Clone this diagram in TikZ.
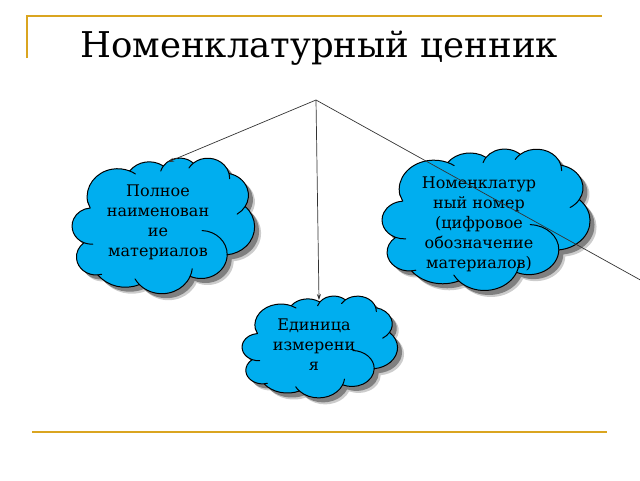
\documentclass[tikz,border=0pt]{standalone}
\usepackage{fontspec}
\setmainfont{DejaVu Serif}
\usetikzlibrary{arrows.meta}
\definecolor{gold}{RGB}{218,165,32}
\definecolor{skyc}{RGB}{0,174,239}
\tikzset{
  cloudfill/.style={fill=skyc, draw=black, line width=1pt, line join=round},
  cloudinner/.style={draw=black, line width=1pt, line cap=round},
  shadowA/.style={fill=black!20},
  shadowB/.style={fill=black!50},
  cloudtext/.style={align=center, font=\fontsize{16}{20}\selectfont, text=black},
  conn/.style={draw=black!80, line width=0.7pt},
  goldline/.style={draw=gold, line width=2pt},
}
\newcommand\pptcloudpath{(39.00,143.70)
 arc[start angle=-190.487, delta angle=123.781, x radius=67.53, y radius=91.90] coordinate (q1)
 arc[start angle=-144.102, delta angle=89.945, x radius=53.33, y radius=72.67] coordinate (q2)
 arc[start angle=-145.808, delta angle=99.723, x radius=43.65, y radius=59.45] coordinate (q3)
 arc[start angle=-130.986, delta angle=117.242, x radius=48.57, y radius=65.95] coordinate (q4)
 arc[start angle=-78.709, delta angle=109.027, x radius=53.33, y radius=72.73] coordinate (q5)
 arc[start angle=-46.267, delta angle=130.269, x radius=67.75, y radius=92.20] coordinate (q6)
 arc[start angle=0.625, delta angle=114.033, x radius=57.85, y radius=78.67] coordinate (q7)
 arc[start angle=22.452, delta angle=115.173, x radius=67.52, y radius=92.15] coordinate (q8)
 arc[start angle=66.243, delta angle=75.711, x radius=77.20, y radius=105.43] coordinate (q9)
 arc[start angle=-274.942, delta angle=146.736, x radius=43.60, y radius=59.18] coordinate (q10)
 arc[start angle=-246.829, delta angle=152.519, x radius=43.45, y radius=59.45] coordinate (q11)
 -- cycle}
\newcommand\pptcloudinner{%
 (39.00,143.70) arc[start angle=169.513, delta angle=-11.858, x radius=67.53, y radius=91.90]
 (q1) arc[start angle=-66.706, delta angle=12.319, x radius=67.53, y radius=91.90]
 (q2) arc[start angle=-145.808, delta angle=-17.686, x radius=43.65, y radius=59.45]
 (q3) arc[start angle=-130.986, delta angle=-18.195, x radius=48.57, y radius=65.95]
 (q4) arc[start angle=-13.744, delta angle=14.859, x radius=48.57, y radius=65.95]
 (q5) arc[start angle=30.318, delta angle=27.751, x radius=53.33, y radius=72.73]
 (q6) arc[start angle=0.625, delta angle=-88.372, x radius=57.85, y radius=78.67]
 (q7) arc[start angle=22.452, delta angle=-15.998, x radius=67.52, y radius=92.15]
 (q8) arc[start angle=137.625, delta angle=14.081, x radius=67.52, y radius=92.15]
 (q9) arc[start angle=85.058, delta angle=-11.447, x radius=43.60, y radius=59.18]
 (q10) arc[start angle=113.171, delta angle=-26.430, x radius=43.45, y radius=59.45]}
% #1 x0, #2 y0 (top-left of frame, px), #3 xscale, #4 yscale
\newcommand\pptcloud[4]{%
 \begin{scope}[xshift=#1pt+6.5pt, yshift=-#2pt-6.5pt, xscale=#3, yscale=#4]
  \fill[shadowA] \pptcloudpath;
 \end{scope}
 \begin{scope}[xshift=#1pt+4.5pt, yshift=-#2pt-4.5pt, xscale=#3, yscale=#4]
  \fill[shadowB] \pptcloudpath;
 \end{scope}
 \begin{scope}[xshift=#1pt, yshift=-#2pt, xscale=#3, yscale=#4]
  \filldraw[cloudfill] \pptcloudpath;
  \begin{scope}
   \clip \pptcloudpath;
   \draw[cloudinner] \pptcloudinner;
  \end{scope}
 \end{scope}}
\begin{document}
\begin{tikzpicture}[x=1pt,y=-1pt]
\useasboundingbox (0,0) rectangle (640,480);
\clip (0,0) rectangle (640,480);
% decorative lines
\draw[goldline] (27,58) -- (27,16) -- (602,16);
\draw[goldline] (32,432) -- (607,432);
% title
\node[font=\fontsize{35.5}{40}\selectfont, anchor=base] (title) at (319,57) {Номенклатурный ценник};
% clouds
\pptcloud{70}{158}{0.452}{0.305}
\node[cloudtext] (t1) at (158,222) {Полное\\наименован\\ие\\материалов};
\pptcloud{379.7}{149}{0.515}{0.318}
\node[cloudtext] (t2) at (479,224) {Номенклатур\\ный номер\\(цифровое\\обозначение\\материалов)};
\pptcloud{240.3}{296}{0.385}{0.229}
\node[cloudtext] (t3) at (314,345) {Единица\\измерени\\я};
% connectors
\coordinate (apex) at (316,100);
\coordinate (c1top) at (168,162);
\coordinate (c3top) at (319,300);
\coordinate (rend) at (644,282);
\draw[conn, -{Stealth[length=6pt,width=4pt]}] (apex) -- (c1top);
\draw[conn, -{Stealth[length=6pt,width=4pt]}] (apex) -- (c3top);
\draw[conn] (apex) -- (rend);
\end{tikzpicture}
\end{document}
